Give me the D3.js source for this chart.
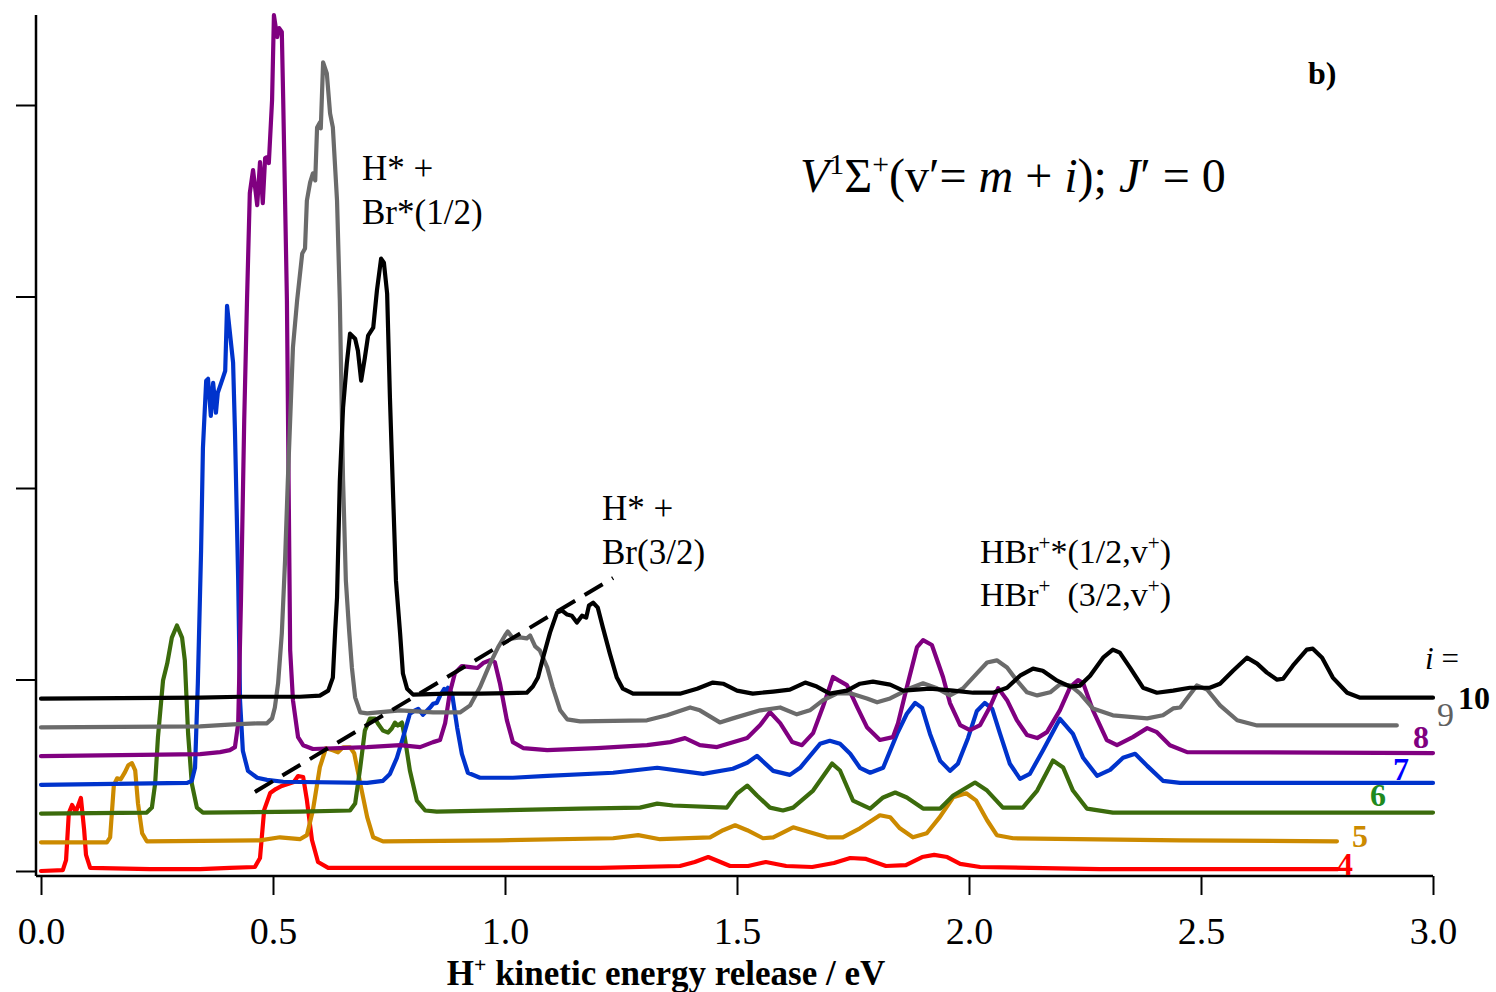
<!DOCTYPE html>
<html>
<head>
<meta charset="utf-8">
<script src="https://cdn.jsdelivr.net/npm/d3@7"></script>
<style>
  html, body { margin: 0; padding: 0; background: #fff; }
  svg { display: block; font-family: "Liberation Serif", "Times New Roman", serif; }
</style>
</head>
<body>
<svg id="chart" width="1496" height="992"></svg>
<script>
// ---------- DATA (x: H+ kinetic energy release / eV, y: intensity, arb. units, before vertical offset) ----------
const xTicks = [0, 0.5, 1.0, 1.5, 2.0, 2.5, 3.0];
const yTicks = [0, 1, 2, 3, 4];
const seriesIndex = [4, 5, 6, 7, 8, 9, 10];
const seriesOffset = [0, 0.15, 0.30, 0.45, 0.60, 0.75, 0.90];

const spectrum_i4 = [
  [0.0,0],[0.047,0.005],[0.054,0.057],[0.060,0.303],[0.067,0.345],[0.075,0.308],[0.086,0.381],[0.093,0.214],
  [0.097,0.084],[0.106,0.016],[0.235,0.010],[0.343,0.010],[0.407,0.016],[0.461,0.021],[0.472,0.068],[0.481,0.319],
  [0.494,0.407],[0.506,0.428],[0.519,0.444],[0.532,0.454],[0.545,0.465],[0.554,0.496],[0.565,0.491],[0.573,0.371],
  [0.584,0.162],[0.597,0.047],[0.619,0.016],[0.881,0.016],[1.205,0.016],[1.377,0.026],[1.409,0.047],[1.438,0.073],
  [1.459,0.052],[1.485,0.026],[1.524,0.026],[1.562,0.047],[1.606,0.026],[1.662,0.021],[1.709,0.042],[1.744,0.068],
  [1.778,0.063],[1.821,0.026],[1.864,0.031],[1.899,0.073],[1.925,0.084],[1.953,0.073],[1.981,0.037],[2.024,0.021],
  [2.282,0.010],[2.795,0.010]
];
const spectrum_i5 = [
  [0.0,0],[0.142,0],[0.149,0.026],[0.157,0.298],[0.164,0.334],[0.172,0.329],[0.181,0.366],[0.188,0.402],[0.196,0.413],
  [0.203,0.376],[0.209,0.204],[0.218,0.047],[0.228,0.005],[0.472,0.010],[0.515,0.026],[0.558,0.016],[0.573,0.037],
  [0.586,0.167],[0.601,0.392],[0.614,0.491],[0.629,0.480],[0.640,0.470],[0.651,0.496],[0.666,0.496],[0.675,0.465],
  [0.688,0.308],[0.703,0.131],[0.716,0.026],[0.737,0.005],[0.989,0.010],[1.233,0.021],[1.287,0.037],[1.334,0.016],
  [1.442,0.026],[1.470,0.063],[1.496,0.089],[1.522,0.063],[1.556,0.021],[1.578,0.026],[1.621,0.078],[1.657,0.052],
  [1.694,0.026],[1.728,0.026],[1.765,0.073],[1.808,0.141],[1.830,0.131],[1.851,0.073],[1.879,0.026],[1.909,0.047],
  [1.937,0.131],[1.966,0.235],[1.994,0.256],[2.015,0.219],[2.039,0.115],[2.060,0.037],[2.095,0.021],[2.455,0.010],
  [2.793,0.005]
];
const spectrum_i6 = [
  [0.0,0],[0.228,0.005],[0.239,0.031],[0.246,0.157],[0.252,0.397],[0.263,0.695],[0.272,0.783],[0.282,0.919],
  [0.293,0.982],[0.304,0.919],[0.310,0.799],[0.317,0.418],[0.325,0.157],[0.336,0.031],[0.349,0.005],[0.558,0.010],
  [0.666,0.016],[0.677,0.052],[0.688,0.240],[0.698,0.433],[0.709,0.496],[0.720,0.496],[0.726,0.470],[0.737,0.433],
  [0.748,0.423],[0.756,0.444],[0.763,0.475],[0.769,0.460],[0.778,0.475],[0.784,0.397],[0.795,0.225],[0.810,0.068],
  [0.828,0.016],[0.853,0.010],[1.162,0.026],[1.291,0.031],[1.328,0.052],[1.362,0.042],[1.478,0.031],[1.500,0.104],
  [1.522,0.146],[1.543,0.094],[1.571,0.031],[1.599,0.016],[1.621,0.031],[1.664,0.120],[1.705,0.261],[1.722,0.225],
  [1.750,0.068],[1.787,0.026],[1.815,0.084],[1.841,0.110],[1.866,0.084],[1.901,0.026],[1.938,0.026],[1.966,0.094],
  [2.013,0.162],[2.039,0.120],[2.073,0.031],[2.116,0.031],[2.147,0.120],[2.181,0.277],[2.203,0.240],[2.224,0.120],
  [2.254,0.026],[2.310,0.005],[3.0,0.005]
];
const spectrum_i7 = [
  [0.0,0],[0.315,0.010],[0.325,0.021],[0.332,0.089],[0.338,0.527],[0.345,1.222],[0.349,1.760],[0.356,2.110],
  [0.360,2.120],[0.366,1.927],[0.371,2.099],[0.377,1.943],[0.381,2.047],[0.392,2.125],[0.397,2.162],[0.401,2.501],
  [0.414,2.204],[0.418,1.849],[0.425,1.065],[0.429,0.439],[0.435,0.178],[0.446,0.073],[0.466,0.037],[0.487,0.026],
  [0.522,0.016],[0.703,0.010],[0.737,0.021],[0.752,0.057],[0.767,0.141],[0.780,0.245],[0.795,0.371],[0.804,0.386],
  [0.813,0.397],[0.823,0.366],[0.838,0.402],[0.845,0.423],[0.853,0.428],[0.860,0.465],[0.869,0.501],[0.873,0.491],
  [0.877,0.507],[0.886,0.475],[0.897,0.298],[0.907,0.162],[0.920,0.063],[0.946,0.037],[1.017,0.037],[1.091,0.047],
  [1.233,0.063],[1.328,0.089],[1.427,0.057],[1.491,0.084],[1.522,0.115],[1.543,0.151],[1.578,0.073],[1.614,0.052],
  [1.636,0.089],[1.679,0.214],[1.700,0.230],[1.722,0.214],[1.744,0.162],[1.765,0.089],[1.787,0.063],[1.815,0.089],
  [1.845,0.266],[1.866,0.371],[1.884,0.428],[1.899,0.402],[1.916,0.266],[1.938,0.125],[1.959,0.073],[1.976,0.110],
  [1.998,0.245],[2.017,0.386],[2.034,0.428],[2.050,0.397],[2.067,0.266],[2.088,0.110],[2.110,0.031],[2.131,0.057],
  [2.159,0.178],[2.196,0.345],[2.224,0.266],[2.246,0.141],[2.276,0.047],[2.304,0.078],[2.332,0.141],[2.358,0.162],
  [2.384,0.099],[2.418,0.021],[2.455,0.010],[3.0,0.010]
];
const spectrum_i8 = [
  [0.0,0],[0.343,0.010],[0.386,0.021],[0.407,0.031],[0.418,0.047],[0.425,0.172],[0.431,0.815],[0.438,1.755],
  [0.444,2.381],[0.450,2.940],[0.457,3.060],[0.466,2.877],[0.472,3.102],[0.478,2.888],[0.483,3.123],[0.487,3.128],
  [0.491,3.097],[0.498,3.426],[0.502,3.869],[0.509,3.755],[0.513,3.802],[0.519,3.781],[0.522,3.426],[0.530,2.381],
  [0.537,0.554],[0.543,0.292],[0.554,0.099],[0.565,0.057],[0.586,0.037],[0.703,0.047],[0.774,0.057],[0.817,0.047],
  [0.845,0.073],[0.860,0.084],[0.871,0.172],[0.881,0.329],[0.892,0.433],[0.907,0.470],[0.925,0.465],[0.940,0.460],
  [0.953,0.486],[0.968,0.501],[0.978,0.491],[0.989,0.381],[1.004,0.188],[1.017,0.073],[1.039,0.042],[1.091,0.031],
  [1.198,0.042],[1.306,0.057],[1.356,0.073],[1.388,0.094],[1.420,0.057],[1.457,0.047],[1.522,0.094],[1.550,0.162],
  [1.571,0.230],[1.593,0.172],[1.619,0.073],[1.640,0.057],[1.664,0.120],[1.685,0.256],[1.707,0.413],[1.718,0.397],
  [1.737,0.371],[1.759,0.256],[1.780,0.151],[1.808,0.084],[1.836,0.099],[1.847,0.172],[1.866,0.360],[1.888,0.569],
  [1.901,0.606],[1.920,0.580],[1.944,0.413],[1.959,0.277],[1.981,0.162],[2.002,0.136],[2.024,0.162],[2.045,0.256],
  [2.063,0.355],[2.082,0.292],[2.103,0.188],[2.125,0.110],[2.147,0.094],[2.168,0.125],[2.196,0.240],[2.218,0.360],
  [2.235,0.397],[2.246,0.381],[2.267,0.240],[2.297,0.084],[2.319,0.057],[2.353,0.099],[2.384,0.146],[2.405,0.125],
  [2.433,0.057],[2.470,0.021],[3.0,0.016]
];
const spectrum_i9 = [
  [0.0,0],[0.343,0.005],[0.414,0.016],[0.466,0.021],[0.487,0.021],[0.498,0.047],[0.504,0.104],[0.511,0.230],
  [0.519,0.491],[0.526,0.872],[0.532,1.290],[0.543,1.984],[0.552,2.230],[0.563,2.475],[0.569,2.501],[0.573,2.751],
  [0.580,2.846],[0.586,2.893],[0.591,2.856],[0.595,3.133],[0.601,3.159],[0.603,3.128],[0.608,3.473],[0.616,3.415],
  [0.623,3.206],[0.629,3.133],[0.638,2.751],[0.644,2.230],[0.651,1.290],[0.657,0.768],[0.664,0.507],[0.670,0.313],
  [0.677,0.157],[0.688,0.078],[0.703,0.073],[0.774,0.089],[0.845,0.078],[0.903,0.078],[0.925,0.115],[0.946,0.209],
  [0.968,0.334],[0.985,0.418],[1.000,0.480],[1.006,0.501],[1.017,0.465],[1.032,0.470],[1.047,0.465],[1.054,0.480],
  [1.065,0.423],[1.075,0.402],[1.091,0.313],[1.103,0.209],[1.119,0.089],[1.134,0.042],[1.162,0.031],[1.306,0.037],
  [1.349,0.063],[1.399,0.104],[1.420,0.089],[1.463,0.026],[1.491,0.047],[1.550,0.089],[1.593,0.104],[1.629,0.068],
  [1.657,0.089],[1.685,0.141],[1.716,0.178],[1.744,0.178],[1.780,0.151],[1.802,0.131],[1.830,0.151],[1.873,0.204],
  [1.901,0.230],[1.931,0.204],[1.959,0.167],[1.987,0.204],[2.017,0.282],[2.039,0.339],[2.060,0.350],[2.082,0.313],
  [2.103,0.245],[2.125,0.183],[2.147,0.167],[2.175,0.183],[2.196,0.225],[2.218,0.219],[2.239,0.178],[2.267,0.099],
  [2.310,0.063],[2.384,0.047],[2.418,0.063],[2.440,0.099],[2.455,0.104],[2.491,0.219],[2.513,0.198],[2.541,0.115],
  [2.578,0.037],[2.621,0.010],[2.922,0.010]
];
const spectrum_i10 = [
  [0.0,0],[0.343,0.005],[0.429,0.010],[0.558,0.010],[0.601,0.016],[0.619,0.042],[0.629,0.110],[0.634,0.355],
  [0.638,0.527],[0.644,1.138],[0.651,1.520],[0.659,1.749],[0.666,1.906],[0.677,1.880],[0.683,1.817],[0.690,1.661],
  [0.698,1.781],[0.705,1.896],[0.716,1.937],[0.724,2.131],[0.733,2.298],[0.739,2.277],[0.746,2.115],[0.752,1.572],
  [0.759,1.050],[0.765,0.616],[0.774,0.339],[0.780,0.131],[0.789,0.052],[0.802,0.021],[0.875,0.026],[0.946,0.026],
  [1.047,0.031],[1.060,0.063],[1.071,0.110],[1.082,0.214],[1.097,0.345],[1.112,0.449],[1.123,0.460],[1.134,0.439],
  [1.144,0.433],[1.155,0.397],[1.166,0.433],[1.175,0.423],[1.181,0.486],[1.190,0.501],[1.200,0.475],[1.211,0.371],
  [1.226,0.235],[1.241,0.110],[1.254,0.052],[1.276,0.026],[1.377,0.026],[1.414,0.052],[1.448,0.084],[1.470,0.078],
  [1.500,0.042],[1.534,0.026],[1.578,0.037],[1.614,0.047],[1.647,0.084],[1.672,0.063],[1.700,0.026],[1.737,0.042],
  [1.765,0.078],[1.793,0.089],[1.830,0.073],[1.858,0.042],[1.916,0.052],[1.966,0.042],[2.009,0.031],[2.052,0.031],
  [2.082,0.057],[2.110,0.120],[2.138,0.157],[2.159,0.146],[2.190,0.094],[2.218,0.063],[2.239,0.068],[2.261,0.120],
  [2.289,0.214],[2.310,0.256],[2.325,0.240],[2.347,0.162],[2.375,0.057],[2.405,0.031],[2.440,0.042],[2.476,0.057],
  [2.519,0.057],[2.541,0.078],[2.569,0.146],[2.599,0.214],[2.621,0.183],[2.642,0.136],[2.664,0.099],[2.677,0.104],
  [2.698,0.172],[2.728,0.256],[2.741,0.261],[2.761,0.214],[2.784,0.110],[2.815,0.031],[2.843,0.005],[3.0,0.005]
];
const spectra = [spectrum_i4, spectrum_i5, spectrum_i6, spectrum_i7, spectrum_i8, spectrum_i9, spectrum_i10];

// dashed guide for H* + Br(3/2) (eV, plotted intensity)
const guideLine = [[0.461, 0.413], [1.233, 1.530]];

// ---------- STYLE ----------
const lineColors  = ["#ff0000", "#cc8a00", "#3b6b0c", "#0033cc", "#800080", "#6b6b6b", "#000000"];
const labelColors = ["#ff0000", "#cc8a00", "#1f8a1f", "#0000ff", "#800080", "#606060", "#000000"];
const labelPos = [[1337, 875], [1352, 847], [1370, 806], [1393, 780], [1413, 748], [1437, 726], [1458, 709]];
const labelBold = [true, true, true, true, true, false, true];

const svg = d3.select("#chart");
const x = d3.scaleLinear().domain([0, 3]).range([41, 1433]);
const y = d3.scaleLinear().domain([0, 4]).range([871, 105]);

// axes
const axisY0 = 876, axisX0 = 36;
const gx = svg.append("g").attr("transform", `translate(0,${axisY0})`)
  .call(d3.axisBottom(x).tickValues(xTicks).tickSize(19).tickSizeOuter(0).tickPadding(22).tickFormat(d3.format(".1f")));
gx.select(".domain").remove();
gx.selectAll(".tick line").attr("stroke", "#000").attr("stroke-width", 2);
gx.selectAll(".tick text").attr("font-family", "Liberation Serif").attr("font-size", 38).attr("fill", "#000");
svg.append("line").attr("x1", axisX0).attr("x2", x(3)).attr("y1", axisY0).attr("y2", axisY0)
  .attr("stroke", "#000").attr("stroke-width", 2.5);

const gy = svg.append("g").attr("transform", `translate(${axisX0},0)`)
  .call(d3.axisLeft(y).tickValues(yTicks).tickSize(20).tickSizeOuter(0).tickFormat(""));
gy.select(".domain").remove();
gy.selectAll(".tick line").attr("stroke", "#000").attr("stroke-width", 2);
svg.append("line").attr("x1", axisX0).attr("x2", axisX0).attr("y1", 15).attr("y2", axisY0)
  .attr("stroke", "#000").attr("stroke-width", 2.5);

// spectra
const line = d3.line().x(d => x(d[0])).y(d => y(d[1]));
spectra.forEach((s, k) => {
  const off = seriesOffset[k];
  svg.append("path")
    .datum(s.map(d => [d[0], d[1] + off]))
    .attr("d", line)
    .attr("fill", "none")
    .attr("stroke", lineColors[k])
    .attr("stroke-width", 4.2)
    .attr("stroke-linejoin", "round")
    .attr("stroke-linecap", "round");
});

// dashed guide
svg.append("path").datum(guideLine).attr("d", line)
  .attr("fill", "none").attr("stroke", "#000").attr("stroke-width", 4).attr("stroke-dasharray", "21,11");

// series labels
seriesIndex.forEach((v, k) => {
  svg.append("text").attr("x", labelPos[k][0]).attr("y", labelPos[k][1])
    .attr("font-size", k === 5 ? 34 : 32).attr("font-weight", labelBold[k] ? "bold" : "normal")
    .attr("fill", labelColors[k]).text(v);
});
const iEq = svg.append("text").attr("x", 1425).attr("y", 669).attr("font-size", 31);
iEq.append("tspan").attr("font-style", "italic").text("i");
iEq.append("tspan").text(" =");

// helper for text with pieces
function rich(xp, yp, size, parts, weight) {
  const t = svg.append("text").attr("x", xp).attr("y", yp).attr("font-size", size)
    .attr("font-weight", weight || "normal").attr("fill", "#000").attr("xml:space", "preserve");
  parts.forEach(p => {
    const ts = t.append("tspan").text(p.t);
    if (p.i) ts.attr("font-style", "italic");
    if (p.sup) { ts.attr("font-size", size * 0.62).attr("dy", -size * 0.38); }
    if (p.after) { ts.attr("dy", size * 0.38); }
  });
  return t;
}

// annotations
rich(362, 180, 35, [{t: "H* +"}]);
rich(362, 224, 35, [{t: "Br*(1/2)"}]);
rich(602, 520, 35, [{t: "H* +"}]);
rich(602, 564, 35, [{t: "Br(3/2)"}]);
rich(980, 563, 34, [{t: "HBr"}, {t: "+", sup: true}, {t: "*(1/2,v", after: true}, {t: "+", sup: true}, {t: ")", after: true}]);
rich(980, 606, 34, [{t: "HBr"}, {t: "+", sup: true}, {t: "\u00a0\u00a0(3/2,v", after: true}, {t: "+", sup: true}, {t: ")", after: true}]);

// formula
rich(800, 192, 48, [
  {t: "V", i: true}, {t: "1", sup: true}, {t: "\u03A3", after: true}, {t: "+", sup: true},
  {t: "(v\u2032= ", after: true}, {t: "m", i: true}, {t: " + "}, {t: "i", i: true}, {t: "); "},
  {t: "J", i: true}, {t: "\u2032 = 0"}
]);

// panel label
rich(1308, 84, 32, [{t: "b)"}], "bold");

// x-axis title
const ttl = rich(666, 985, 35, [{t: "H"}, {t: "+", sup: true}, {t: " kinetic energy release / eV", after: true}], "bold");
ttl.attr("text-anchor", "middle");
</script>
</body>
</html>
